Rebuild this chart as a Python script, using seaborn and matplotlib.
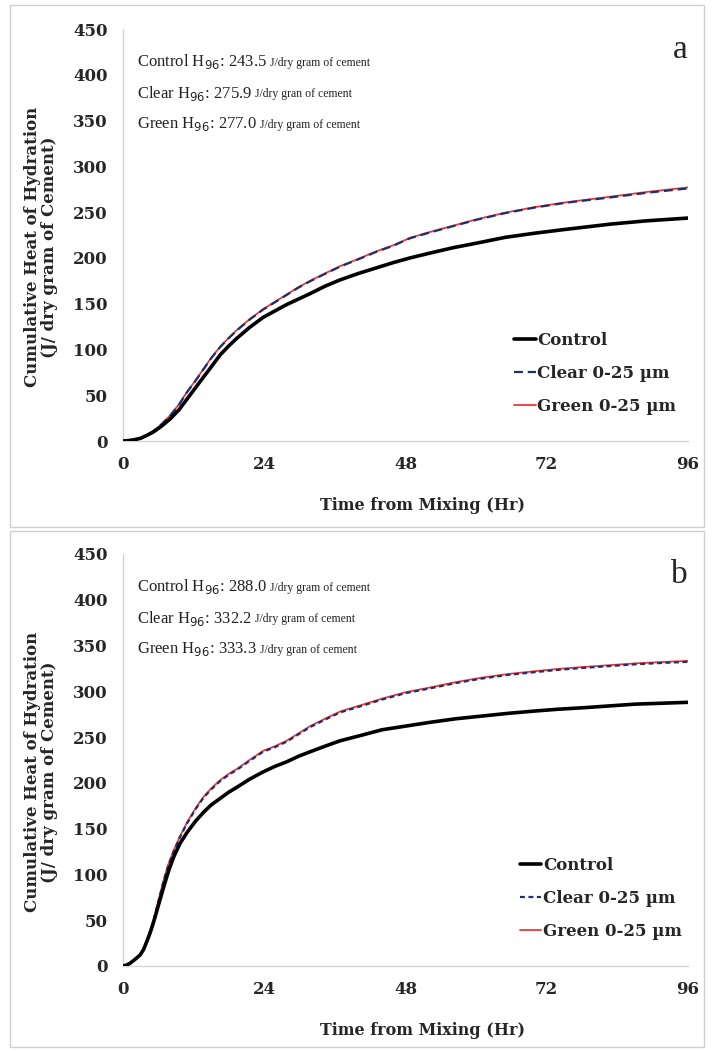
import numpy as np
import pandas as pd
import matplotlib
matplotlib.use("Agg")
import matplotlib.pyplot as plt
from matplotlib.patches import Rectangle
import seaborn as sns

# ---------------- data ----------------
series_names = ["Control", "Clear 0-25 \u00b5m", "Green 0-25 \u00b5m"]

time_a = [0, 1, 2, 3, 4, 5.2, 6.5, 8, 9.5, 10.9, 12.3, 13.7, 15, 16.5, 18,
          19.3, 21.5, 23.8, 25.8, 27.8, 29.8, 31.8, 34.3, 36.9, 40, 43, 46,
          48.8, 52, 56, 60, 65, 70, 75, 83, 89, 96]
control_a = [0, 0.5, 1.5, 3, 6, 10, 16, 24, 34, 46, 58, 70, 81, 94, 104,
             112, 124, 135, 142, 149, 155, 161, 169, 176, 183, 189, 195,
             200, 205, 211, 216, 222.5, 227, 231, 237, 240.5, 243.5]
clear_a = [0, 0.5, 1.5, 3, 6, 11, 18, 27.5, 39.5, 53.5, 65.5, 78.5, 90.5,
           102.5, 112.5, 120.5, 132.5, 143.5, 151.5, 159.5, 167.5, 174.5,
           182.5, 190.5, 198.5, 206.5, 213.5, 221.5, 227.5, 234.5, 241.5,
           249, 255, 260, 266.2, 271.1, 275.9]
green_a = [0, 0.5, 1.5, 3, 6, 11, 18, 28, 40, 54, 66, 79, 91, 103, 113,
           121, 133, 144, 152, 160, 168, 175, 183, 191, 199, 207, 214,
           222, 228, 235, 242, 249.5, 255.5, 260.5, 267, 272, 277.0]

time_b = [0, 0.6, 1.2, 2, 2.9, 3.5, 4, 4.6, 5.2, 6, 6.9, 7.7, 8.6, 9.7,
          10.9, 12.3, 13.7, 15, 16.5, 18, 19.3, 21.5, 23.8, 25.8, 27.8,
          29.8, 31.8, 34.3, 36.9, 40.5, 44, 48, 52, 56.5, 61, 65.5, 70, 74,
          78, 82.5, 87, 91.5, 96]
control_b = [0, 1, 3, 7, 12, 18, 26, 36, 48, 66, 86, 103, 119, 134, 146,
             158, 168, 176, 183, 190, 195, 204, 212, 218, 223, 229, 234,
             240, 246, 252, 258, 262, 266, 270, 273, 276, 278.5, 280.5, 282,
             284, 286, 287, 288.0]
clear_b = [0, 1, 3, 7, 12, 18, 27, 38, 50, 70, 93, 110, 125, 141, 156,
           171, 184, 193, 202, 209, 214, 224, 234, 239, 245, 253, 261, 269,
           277, 284, 291, 298, 303, 309, 314, 318, 321, 323.5, 325.5, 327.5,
           329.5, 331, 332.2]
green_b = [0, 1, 3, 7, 12, 18, 27, 38, 50, 71, 94, 111, 126, 142, 157,
           172, 185, 194, 203, 210, 215, 225, 235, 240, 246, 254, 262, 270,
           278, 285, 292, 299, 304, 310, 315, 319, 322, 324.5, 326.5, 328.5,
           330.5, 332, 333.3]

notes_a = [("Control", "243.5", " J/dry gram of cement"),
           ("Clear", "275.9", " J/dry gran of cement"),
           ("Green", "277.0", " J/dry gram of cement")]
notes_b = [("Control", "288.0", " J/dry gram of cement"),
           ("Clear", "332.2", " J/dry gram of cement"),
           ("Green", "333.3", " J/dry gran of cement")]

x_ticks = [0, 24, 48, 72, 96]
y_ticks = [0, 50, 100, 150, 200, 250, 300, 350, 400, 450]
panel_letters = ["a", "b"]

# ---------------- style ----------------
sns.set_style("white")
plt.rcParams["font.family"] = ["DejaVu Serif"]

colors = {series_names[0]: "#000000",
          series_names[1]: "#1f2f6e",
          series_names[2]: "#e8383d"}

fig = plt.figure(figsize=(7.14, 10.51), dpi=100)
W, H = 714, 1051


def ax_rect(left, top, right, bottom):
    return [left / W, 1 - bottom / H, (right - left) / W, (bottom - top) / H]


ax_a = fig.add_axes(ax_rect(123, 29, 688, 441))
ax_b = fig.add_axes(ax_rect(123, 554, 688, 966))

# panel frames
for (t, b) in [(5, 527), (531, 1047)]:
    fig.add_artist(Rectangle((10 / W, 1 - b / H), (704 - 10) / W, (b - t) / H,
                             transform=fig.transFigure, fill=False,
                             edgecolor="#cfcfcf", linewidth=1.0))


def make_df(t, c, cl, g):
    rows = []
    for name, vals in zip(series_names, [c, cl, g]):
        for ti, v in zip(t, vals):
            rows.append({"time": ti, "heat": v, "series": name})
    return pd.DataFrame(rows)


def draw(ax, t, c, cl, g, notes, letter, dash_b=False, leg_anchor=(0.67, 0.27)):
    df = make_df(t, c, cl, g)
    # green (red line) underneath, then clear dashed, then control
    sns.lineplot(data=df[df.series == series_names[2]], x="time", y="heat",
                 color=colors[series_names[2]], lw=1.3, ax=ax,
                 label=series_names[2], zorder=3)
    sns.lineplot(data=df[df.series == series_names[1]], x="time", y="heat",
                 color=colors[series_names[1]], lw=1.6, ax=ax,
                 label=series_names[1], zorder=4)
    ax.lines[-1].set_dashes((2.2, 1.6) if dash_b else (4, 2.2))
    sns.lineplot(data=df[df.series == series_names[0]], x="time", y="heat",
                 color=colors[series_names[0]], lw=2.6, ax=ax,
                 label=series_names[0], zorder=5)

    ax.set_xlim(0, 96)
    ax.set_ylim(0, 450)
    ax.set_xticks(x_ticks)
    ax.set_yticks(y_ticks)
    for s in ["top", "right"]:
        ax.spines[s].set_visible(False)
    for s in ["left", "bottom"]:
        ax.spines[s].set_color("#d4d4d4")
        ax.spines[s].set_linewidth(1.0)
    ax.tick_params(axis="both", which="major", length=5, width=1.0,
                   color="#d4d4d4", direction="out", pad=6,
                   labelsize=12)
    for lab in ax.get_xticklabels() + ax.get_yticklabels():
        lab.set_fontweight("bold")
    ax.set_xlabel("Time from Mixing (Hr)", fontsize=11.5, fontweight="bold")
    ax.xaxis.set_label_coords(0.53, -0.135)
    ax.set_ylabel("Cumulative Heat of Hydration\n(J/ dry gram of Cement)",
                  fontsize=12, fontweight="bold", linespacing=1.0)
    ax.yaxis.set_label_coords(-0.115, 0.47)
    ax.grid(False)

    # legend in Control / Clear / Green order
    handles, labels = ax.get_legend_handles_labels()
    order = [labels.index(n) for n in series_names]
    ax.legend([handles[i] for i in order], [labels[i] for i in order],
              loc="upper left", bbox_to_anchor=leg_anchor, frameon=False,
              handlelength=1.3, handletextpad=0.1, labelspacing=0.95,
              borderaxespad=0, prop={"family": "DejaVu Serif",
                                     "weight": "bold", "size": 12})

    # annotations
    ys = [414, 380, 346]
    for (name, val, unit), yy in zip(notes, ys):
        t1 = ax.text(2.4, yy, name + " H$_{96}$: " + val,
                     family="Liberation Serif", fontsize=12,
                     va="center", ha="left", color="#222222")
        ax.annotate(unit, xy=(1, 0.45), xycoords=t1, va="center",
                    ha="left", family="Liberation Serif", fontsize=8.5,
                    color="#222222")

    ax.text(96, 427, letter, family="Liberation Serif", fontsize=24,
            ha="right", va="center")


draw(ax_a, time_a, control_a, clear_a, green_a, notes_a, panel_letters[0],
     dash_b=False, leg_anchor=(0.68, 0.28))
draw(ax_b, time_b, control_b, clear_b, green_b, notes_b, panel_letters[1],
     dash_b=True, leg_anchor=(0.69, 0.28))

fig.savefig("out.png", dpi=100)
